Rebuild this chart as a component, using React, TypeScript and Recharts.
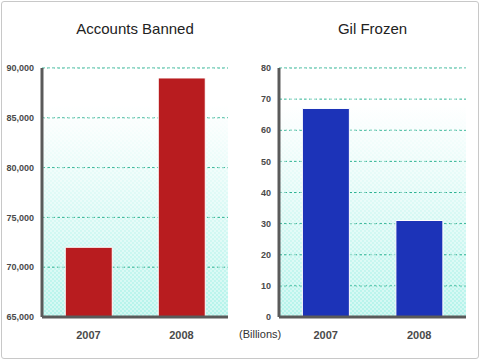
import { BarChart, Bar, XAxis, YAxis, CartesianGrid, ReferenceArea } from "recharts";

const years = ["2007", "2008"];
const accountsBanned = [72000, 89000];
const gilFrozen = [67, 31];
const bannedTicks = [65000, 70000, 75000, 80000, 85000, 90000];
const gilTicks = [0, 10, 20, 30, 40, 50, 60, 70, 80];

const bannedData = years.map((year, i) => ({ year, value: accountsBanned[i] }));
const gilData = years.map((year, i) => ({ year, value: gilFrozen[i] }));

const font = "Arial, 'Liberation Sans', Helvetica, sans-serif";
const tickStyle = { fontSize: 9, fontWeight: 700, fill: "#4a4a4a", fontFamily: font };

function Defs({ id }: { id: string }) {
  return (
    <defs>
      <linearGradient id={`bg-${id}`} x1="0" y1="0" x2="0" y2="1">
        <stop offset="0%" stopColor="#ffffff" />
        <stop offset="15%" stopColor="#ffffff" />
        <stop offset="100%" stopColor="#b3f3ea" />
      </linearGradient>
      <pattern id={`chk-${id}`} width="4" height="4" patternUnits="userSpaceOnUse">
        <rect x="0" y="0" width="2" height="2" fill="#ffffff" fillOpacity={0.4} />
        <rect x="2" y="2" width="2" height="2" fill="#ffffff" fillOpacity={0.4} />
      </pattern>
    </defs>
  );
}

function Panel({
  id, data, ticks, domain, color, fmt, marginLeft, marginRight,
}: {
  id: string; data: { year: string; value: number }[]; ticks: number[]; domain: [number, number];
  color: string; fmt: (v: number) => string; marginLeft: number; marginRight: number;
}) {
  return (
    <BarChart
      width={240}
      height={360}
      data={data}
      margin={{ top: 68, right: marginRight, left: marginLeft, bottom: 18 }}
      barCategoryGap="25%"
    >
      <Defs id={id} />
      <CartesianGrid vertical={false} stroke="#2fb393" strokeDasharray="3 2" fill={`url(#bg-${id})`} />
      <ReferenceArea y1={domain[0]} y2={domain[1]} fill={`url(#chk-${id})`} fillOpacity={1} stroke="none" ifOverflow="extendDomain" />
      <XAxis
        dataKey="year"
        tickLine={false}
        axisLine={{ stroke: "#5a5a5a", strokeWidth: 3 }}
        tick={{ ...tickStyle, fontSize: 11 }}
        tickMargin={8}
        height={25}
      />
      <YAxis
        domain={domain}
        ticks={ticks}
        interval={0}
        tickLine={false}
        axisLine={{ stroke: "#5a5a5a", strokeWidth: 3 }}
        tick={tickStyle}
        tickFormatter={fmt}
        width={40}
        tickMargin={2}
      />
      <Bar dataKey="value" fill={color} stroke="#ffffff" strokeWidth={1} isAnimationActive={false} />
    </BarChart>
  );
}

export default function App() {
  const title = { position: "absolute" as const, top: 20, fontFamily: font, fontSize: 15, color: "#222", textAlign: "center" as const };
  return (
    <div style={{ position: "absolute", left: 0, top: 0, width: 480, height: 360, background: "#fff" }}>
      <div style={{ position: "absolute", left: 1, top: 1, width: 476, height: 356, border: "1px solid #c8c8c8", borderRadius: 3 }} />
      <div style={{ position: "absolute", left: 0, top: 0 }}>
        <Panel id="a" data={bannedData} ticks={bannedTicks} domain={[65000, 90000]} color="#b81c1f"
          fmt={(v) => v.toLocaleString("en-US")} marginLeft={2} marginRight={12} />
      </div>
      <div style={{ position: "absolute", left: 240, top: 0 }}>
        <Panel id="b" data={gilData} ticks={gilTicks} domain={[0, 80]} color="#1c33b8"
          fmt={(v) => String(v)} marginLeft={-1} marginRight={14} />
      </div>
      <div style={{ ...title, left: 42, width: 186 }}>Accounts Banned</div>
      <div style={{ ...title, left: 279, width: 187 }}>Gil Frozen</div>
      <div style={{ position: "absolute", left: 239, top: 328, fontFamily: font, fontSize: 11, color: "#333" }}>(Billions)</div>
    </div>
  );
}
